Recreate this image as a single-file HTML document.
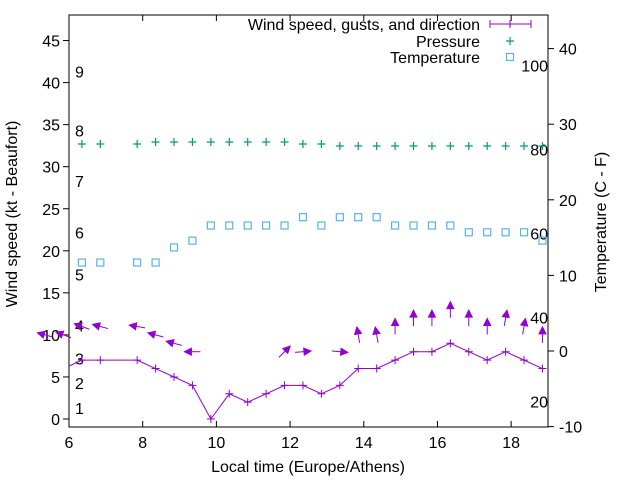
<!DOCTYPE html>
<html><head><meta charset="utf-8"><style>
body{margin:0;background:#fff}
svg{display:block;font-family:"Liberation Sans",sans-serif}
</style></head><body>
<svg id="chart" width="640" height="480" viewBox="0 0 640 480" xmlns="http://www.w3.org/2000/svg">
<g id="g"></g>
</svg>
<script>
const windTimes=[5.85,6.35,6.85,7.85,8.35,8.85,9.35,9.85,10.35,10.85,11.35,11.85,12.35,12.85,13.35,13.85,14.35,14.85,15.35,15.85,16.35,16.85,17.35,17.85,18.35,18.85];
const windSpeed=[6,7,7,7,6,5,4,0,3,2,3,4,4,3,4,6,6,7,8,8,9,8,7,8,7,6];
const gustTimes=[5.35,5.85,6.35,6.85,7.85,8.35,8.85,9.35,11.85,12.35,13.35,13.85,14.35,14.85,15.35,15.85,16.35,16.85,17.35,17.85,18.35,18.85];
const gustSpeed=[10,10,11,11,11,10,9,8,8,8,8,10,10,11,12,12,13,12,11,12,11,10];
const gustAngle=[165,160,160,165,170,165,165,180,45,5,-5,100,100,90,90,90,90,90,90,80,80,90];
const pTimes=[6.35,6.85,7.85,8.35,8.85,9.35,9.85,10.35,10.85,11.35,11.85,12.35,12.85,13.35,13.85,14.35,14.85,15.35,15.85,16.35,16.85,17.35,17.85,18.35,18.85];
const pressure=[1013,1013,1013,1014,1014,1014,1014,1014,1014,1014,1014,1013,1013,1012,1012,1012,1012,1012,1012,1012,1012,1012,1012,1012,1012];
const temperature=[11.7,11.7,11.7,11.7,13.7,14.6,16.6,16.6,16.6,16.6,16.6,17.7,16.6,17.7,17.7,17.7,16.6,16.6,16.6,16.6,15.7,15.7,15.7,15.7,14.6];
const xTicks=[6,8,10,12,14,16,18];
const yTicks=[0,5,10,15,20,25,30,35,40,45];
const y2Ticks=[-10,0,10,20,30,40];
const bftLabels=["1","2","3","4","5","6","7","8","9"];
const bftPos=[1.3,4.3,7.2,11.1,17.2,22.2,28.3,34.3,41.3];
const fLabels=["20","40","60","80","100"];
const fVals=[20,40,60,80,100];

const L=69,R=548,T=15,B=427;
const X=t=>L+(t-6)*(R-L)/13;
const Y=v=>419-v*8.41;
const Y2=c=>351-c*7.56;
const YP=p=>144-(p-1013)*2;
const NS="http://www.w3.org/2000/svg";
const g=document.getElementById('g');
function el(tag,a,txt){const e=document.createElementNS(NS,tag);for(const k in a)e.setAttribute(k,a[k]);if(txt!==undefined)e.textContent=txt;g.appendChild(e);return e;}
const TF='font-size:16px;fill:#000';

let f=el('rect',{x:L,y:T,width:R-L,height:B-T,fill:'none',stroke:'#000','stroke-width':1});


xTicks.forEach(t=>{
 let a=el('line',{x1:X(t),x2:X(t),y1:B,y2:B-6,stroke:'#000'});
 
 let b=el('line',{x1:X(t),x2:X(t),y1:T,y2:T+6,stroke:'#000'});
 
 let tx=el('text',{x:X(t),y:B+21,'text-anchor':'middle',style:TF},String(t));
 
});
yTicks.forEach(v=>{
 let a=el('line',{x1:L-6,x2:L,y1:Y(v),y2:Y(v),stroke:'#000'});
 
 let tx=el('text',{x:L-9,y:Y(v)+6,'text-anchor':'end',style:TF},String(v));
 
});
y2Ticks.forEach(v=>{
 let a=el('line',{x1:R,x2:R+6,y1:Y2(v),y2:Y2(v),stroke:'#000'});
 
 let tx=el('text',{x:R+11,y:Y2(v)+6,'text-anchor':'start',style:TF},String(v));
 
});
bftLabels.forEach((s,i)=>{
 let tx=el('text',{x:75,y:Y(bftPos[i])+6,style:TF},s);
 
});
fLabels.forEach((s,i)=>{
 let tx=el('text',{x:548,y:Y2((fVals[i]-32)*5/9)+6,'text-anchor':'end',style:TF},s);
 
});

let xl=el('text',{x:308,y:472,'text-anchor':'middle',style:TF},'Local time (Europe/Athens)');

let yl=el('text',{x:0,y:0,'text-anchor':'middle',style:TF,transform:'translate(17,214) rotate(-90)'},'Wind speed (kt - Beaufort)');

let y2l=el('text',{x:0,y:0,'text-anchor':'middle',style:TF,transform:'translate(606,222) rotate(-90)'},'Temperature (C - F)');


const defs=el('defs',{});
const cp=document.createElementNS(NS,'clipPath');cp.setAttribute('id','c');
const cr=document.createElementNS(NS,'rect');cr.setAttribute('x',L);cr.setAttribute('y',T);cr.setAttribute('width',R-L);cr.setAttribute('height',B-T);
cp.appendChild(cr);defs.appendChild(cp);

const W='#9400d3';
let pts=windTimes.map((t,i)=>X(t)+','+Y(windSpeed[i])).join(' ');
let wl=el('polyline',{points:pts,fill:'none',stroke:W,'stroke-width':1,'clip-path':'url(#c)'});

windTimes.forEach((t,i)=>{
 if(t<6)return;
 const x=X(t),y=Y(windSpeed[i]);
 let m=el('path',{d:`M${x-4} ${y}H${x+4}M${x} ${y-4}V${y+4}`,stroke:W,'stroke-width':1});
 
});
gustTimes.forEach((t,i)=>{
 const cx=X(t),cy=Y(gustSpeed[i]),a=gustAngle[i]*Math.PI/180,len=16;
 const dx=Math.cos(a),dy=-Math.sin(a);
 const hx=cx+dx*len/2,hy=cy+dy*len/2,tx=cx-dx*len/2,ty=cy-dy*len/2;
 const bx=hx-dx*7,by=hy-dy*7,px=-dy*3.5,py=dx*3.5;
 let ar=el('g',{});
 
 const s=document.createElementNS(NS,'line');
 s.setAttribute('x1',tx);s.setAttribute('y1',ty);s.setAttribute('x2',bx);s.setAttribute('y2',by);s.setAttribute('stroke',W);
 const h=document.createElementNS(NS,'polygon');
 h.setAttribute('points',`${hx},${hy} ${bx+px},${by+py} ${bx-px},${by-py}`);h.setAttribute('fill',W);h.setAttribute('stroke',W);
 ar.appendChild(s);ar.appendChild(h);
});
const G='#009e73',C='#56b4e9';
pTimes.forEach((t,i)=>{
 const x=X(t),y=YP(pressure[i]);
 let m=el('path',{d:`M${x-4} ${y}H${x+4}M${x} ${y-4}V${y+4}`,stroke:G,'stroke-width':1.2});
 
 const yt=Y2(temperature[i]);
 let q=el('rect',{x:x-3.5,y:yt-3.5,width:7,height:7,fill:'none',stroke:C,'stroke-width':1.2});
 
});

const lg=[['Wind speed, gusts, and direction',24],['Pressure',41],['Temperature',57]];
lg.forEach(([s,y])=>{
 let t=el('text',{x:480,y:y+6,'text-anchor':'end',style:TF},s);
 
});
let l1=el('path',{d:'M490 24H531M490 20V28M531 20V28M510 20V28',stroke:W,fill:'none'});

let l2=el('path',{d:'M506 41H514M510 37V45',stroke:G,'stroke-width':1.2});

let l3=el('rect',{x:506.5,y:53.5,width:7,height:7,fill:'none',stroke:C,'stroke-width':1.2});

</script>
</body></html>
